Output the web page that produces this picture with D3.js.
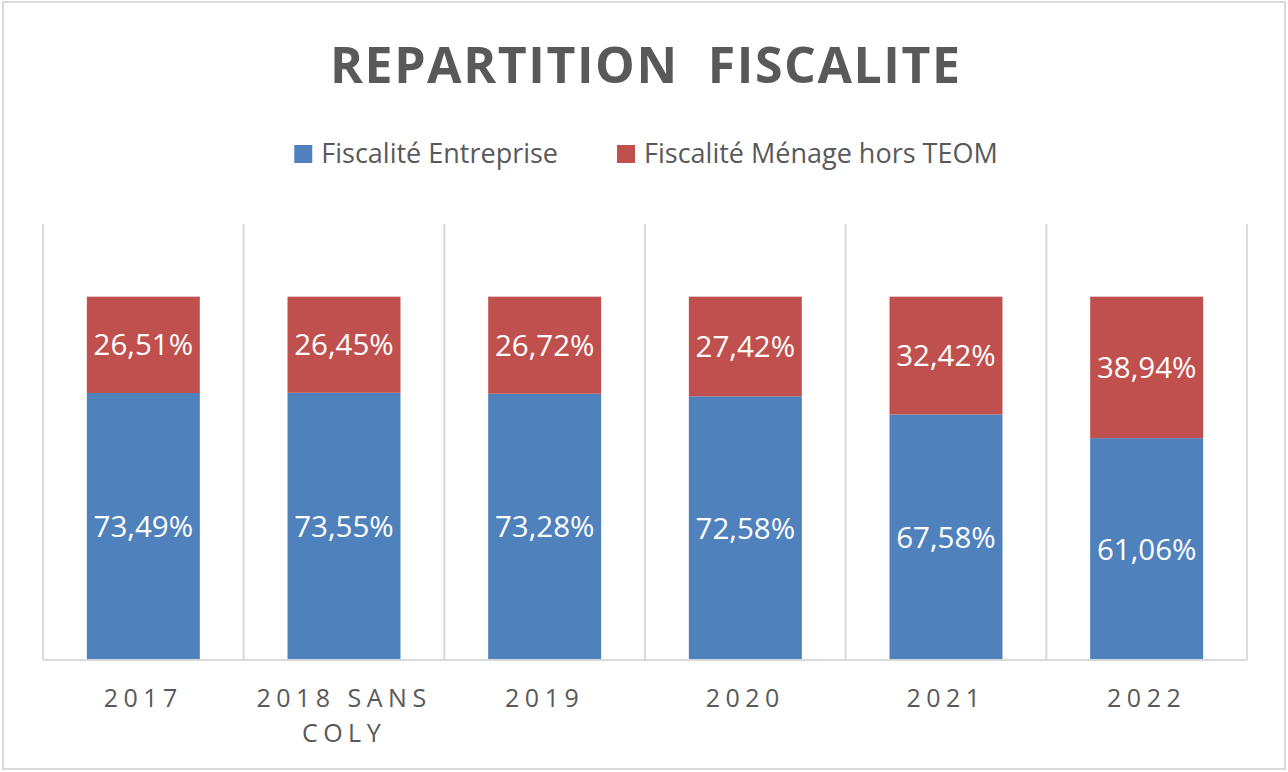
<!DOCTYPE html>
<html>
<head>
<meta charset="utf-8">
<script src="https://cdn.jsdelivr.net/npm/d3@7"></script>
<style>
  body { margin: 0; background: #fff; }
  text { font-family: "Open Sans", "Noto Sans", sans-serif; }
</style>
</head>
<body>
<div id="chart"></div>
<script>
// data
let categories = ["2017", "2018 SANS COLY", "2019", "2020", "2021", "2022"];
let entreprise = [73.49, 73.55, 73.28, 72.58, 67.58, 61.06];
let menage = [26.51, 26.45, 26.72, 27.42, 32.42, 38.94];
let seriesNames = ["Fiscalité Entreprise", "Fiscalité Ménage hors TEOM"];
let seriesKeys = ["entreprise", "menage"];
let colors = ["#4F81BD", "#C0504D"];
let yMax = 120;

let W = 1288, H = 772;
let margin = {top: 224, right: 41, bottom: 112, left: 43},
    width = W - margin.left - margin.right,
    height = H - margin.top - margin.bottom;

let svg = d3.select("#chart")
    .append("svg")
    .attr("width", W)
    .attr("height", H);

svg.append("rect")
    .attr("x", 0).attr("y", 0)
    .attr("width", W).attr("height", H)
    .attr("fill", "#fff");

// chart frame
svg.append("rect")
    .attr("x", 3).attr("y", 2)
    .attr("width", 1282).attr("height", 767)
    .attr("fill", "none")
    .attr("stroke", "#D9D9D9")
    .attr("stroke-width", 2);

let g = svg.append("g")
    .attr("transform", "translate(" + margin.left + "," + margin.top + ")");

let x = d3.scaleBand().domain(categories).range([0, width]);
let y = d3.scaleLinear().domain([0, yMax]).range([height, 0]);
let barW = x.bandwidth() * 0.563;

let table = categories.map((c, i) => ({cat: c, entreprise: entreprise[i], menage: menage[i]}));
let stacked = d3.stack().keys(seriesKeys)(table);

// vertical gridlines at category boundaries
let bounds = categories.map(c => x(c)).concat([width]);
g.selectAll(".vgrid")
    .data(bounds)
    .enter().append("line")
    .attr("class", "vgrid")
    .attr("x1", d => d).attr("x2", d => d)
    .attr("y1", y(yMax)).attr("y2", y(0))
    .attr("stroke", "#D9D9D9")
    .attr("stroke-width", 2);

// bars
let layers = g.selectAll(".layer")
    .data(stacked)
    .enter().append("g")
    .attr("class", "layer")
    .attr("fill", (d, i) => colors[i]);

layers.selectAll("rect")
    .data(d => d)
    .enter().append("rect")
    .attr("x", d => x(d.data.cat) + (x.bandwidth() - barW) / 2)
    .attr("width", barW)
    .attr("y", d => y(d[1]))
    .attr("height", d => y(d[0]) - y(d[1]));

// value labels
let fmt = v => v.toFixed(2).replace(".", ",") + "%";
layers.selectAll(".lbl")
    .data(d => d)
    .enter().append("text")
    .attr("class", "lbl")
    .attr("x", d => x(d.data.cat) + x.bandwidth() / 2)
    .attr("y", d => y((d[0] + d[1]) / 2))
    .attr("dy", "0.36em")
    .attr("text-anchor", "middle")
    .attr("fill", "#fff")
    .style("font-size", "29.5px")
    .text(d => fmt(d[1] - d[0]));

// baseline
g.append("line")
    .attr("x1", 0).attr("x2", width)
    .attr("y1", y(0)).attr("y2", y(0))
    .attr("stroke", "#D9D9D9")
    .attr("stroke-width", 2);

// x axis
let xAxis = d3.axisBottom(x).tickSize(0).tickPadding(0);
let ax = g.append("g")
    .attr("class", "x axis")
    .attr("transform", "translate(0," + height + ")")
    .call(xAxis);
ax.select(".domain").remove();
ax.selectAll("text")
    .attr("fill", "#595959")
    .style("font-size", "25px")
    .style("letter-spacing", "5.5px")
    .call(wrap, 190);

function wrap(sel, maxW) {
    sel.each(function() {
        let t = d3.select(this);
        let words = t.text().split(" ");
        t.text(null).attr("y", null).attr("dy", null);
        let lines = [], line = [];
        let tmp = t.append("tspan");
        words.forEach(w => {
            line.push(w);
            tmp.text(line.join(" "));
            if (tmp.node().getComputedTextLength() > maxW && line.length > 1) {
                line.pop();
                lines.push(line.join(" "));
                line = [w];
            }
        });
        lines.push(line.join(" "));
        tmp.remove();
        lines.forEach((l, i) => {
            t.append("tspan")
                .attr("x", 0)
                .attr("y", 47 + i * 35)
                .text(l);
        });
    });
}

// title
let title = svg.append("text")
    .attr("x", 645)
    .attr("y", 83)
    .attr("text-anchor", "middle")
    .attr("fill", "#595959")
    .style("font-size", "50px")
    .style("font-weight", "bold")
    .style("white-space", "pre")
    .text("REPARTITION  FISCALITE");
let tLen = title.node().getComputedTextLength();
let nChars = title.text().length;
let sp = (630 - tLen) / (nChars - 1);
title.style("letter-spacing", sp + "px").attr("x", 645 + sp / 2);

// legend
let legend = svg.append("g").attr("class", "legend");
let items = legend.selectAll(".item")
    .data(seriesNames)
    .enter().append("g")
    .attr("class", "item");
items.append("rect")
    .attr("y", 145)
    .attr("width", 18).attr("height", 18)
    .attr("fill", (d, i) => colors[i]);
items.append("text")
    .attr("x", 27)
    .attr("y", 163)
    .attr("fill", "#595959")
    .style("font-size", "27px")
    .text(d => d);
let offs = [], pos = 0;
items.each(function() {
    offs.push(pos);
    pos += 27 + d3.select(this).select("text").node().getComputedTextLength() + 59;
});
let total = pos - 59;
let start = 646 - total / 2;
items.attr("transform", (d, i) => "translate(" + (start + offs[i]) + ",0)");
</script>
</body>
</html>
